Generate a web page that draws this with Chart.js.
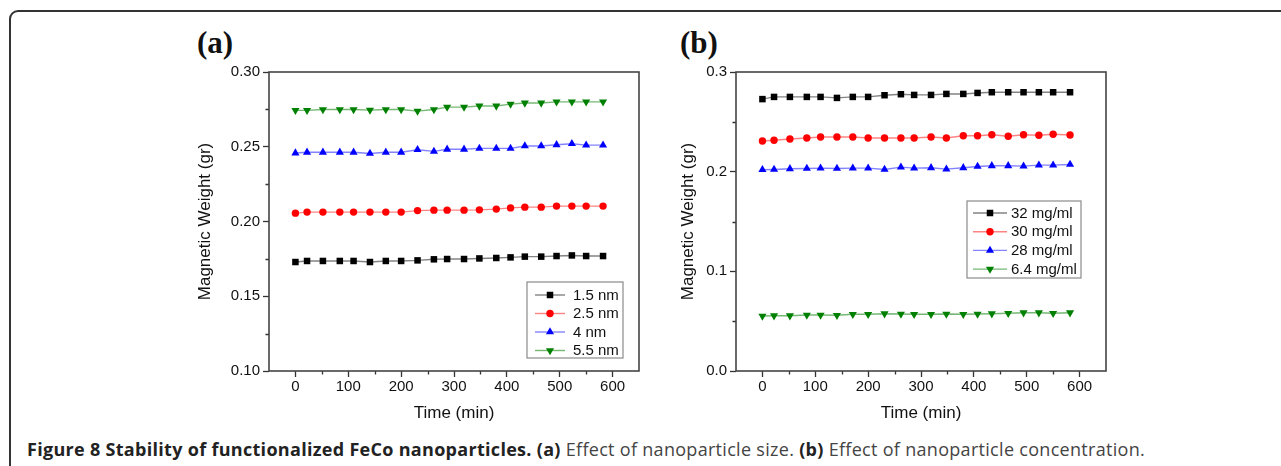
<!DOCTYPE html>
<html><head><meta charset="utf-8">
<script src="https://cdn.jsdelivr.net/npm/chart.js@4.4.1/dist/chart.umd.min.js"></script>
<style>
html,body{margin:0;padding:0;background:#fff;width:1281px;height:466px;overflow:hidden;position:relative;font-family:Arial,"Liberation Sans",sans-serif}
#frame{position:absolute;left:9px;top:10px;width:1300px;height:500px;border:2px solid #333;border-top-left-radius:9px;box-sizing:border-box}
canvas{position:absolute;top:60px}
#ca{left:180px}
#cb{left:660px}
.lbl{position:absolute;font-family:"Liberation Serif","Times New Roman",serif;font-weight:bold;font-size:31px;line-height:32px;color:#111}
#caption{position:absolute;left:27px;top:439px;font-family:"Open Sans",sans-serif;font-size:18px;letter-spacing:0.3px;line-height:20px;color:#444;white-space:nowrap}
#caption b{color:#222;font-weight:700}
</style></head>
<body>
<div id="frame"></div>
<div class="lbl" style="left:197px;top:27px">(a)</div>
<div class="lbl" style="left:680px;top:27px">(b)</div>
<canvas id="ca" width="470" height="370"></canvas>
<canvas id="cb" width="460" height="370"></canvas>
<div id="caption"><b>Figure 8 Stability of functionalized FeCo nanoparticles. (a)</b> Effect of nanoparticle size. <b>(b)</b> Effect of nanoparticle concentration.</div>
<script>
// ---- data ----
const times = [0,22,52,84,110,141,171,200,231,262,287,319,348,380,407,434,465,494,523,550,582];
const xTickValues = [0,100,200,300,400,500,600];
const xMinorTicks = [50,150,250,350,450,550];

// Panel (a): effect of nanoparticle size
const sizeLabels = ['1.5 nm','2.5 nm','4 nm','5.5 nm'];
const size_1_5 = [0.1729,0.1736,0.1736,0.1736,0.1736,0.1729,0.1736,0.1736,0.1740,0.1747,0.1749,0.1749,0.1753,0.1756,0.1760,0.1765,0.1765,0.1769,0.1773,0.1769,0.1769];
const size_2_5 = [0.2056,0.2063,0.2063,0.2063,0.2063,0.2063,0.2063,0.2063,0.2073,0.2076,0.2076,0.2076,0.2078,0.2083,0.2091,0.2096,0.2096,0.2103,0.2103,0.2103,0.2103];
const size_4   = [0.2458,0.2463,0.2463,0.2463,0.2463,0.2455,0.2463,0.2463,0.2480,0.2469,0.2483,0.2483,0.2489,0.2489,0.2489,0.2505,0.2505,0.2513,0.2520,0.2511,0.2511];
const size_5_5 = [0.2743,0.2743,0.2749,0.2749,0.2749,0.2745,0.2749,0.2749,0.2738,0.2749,0.2765,0.2765,0.2773,0.2773,0.2785,0.2793,0.2793,0.2800,0.2800,0.2800,0.2800];
const yTicksA = [0.10,0.15,0.20,0.25,0.30];
const yTickLabelsA = ['0.10','0.15','0.20','0.25','0.30'];
const yMinorA = [0.125,0.175,0.225,0.275];

// Panel (b): effect of nanoparticle concentration
const concLabels = ['32 mg/ml','30 mg/ml','28 mg/ml','6.4 mg/ml'];
const conc_32  = [0.2728,0.2750,0.2750,0.2750,0.2750,0.2740,0.2750,0.2750,0.2767,0.2777,0.2770,0.2770,0.2780,0.2780,0.2790,0.2797,0.2797,0.2797,0.2797,0.2797,0.2797];
const conc_30  = [0.2308,0.2315,0.2328,0.2338,0.2348,0.2348,0.2348,0.2338,0.2338,0.2338,0.2338,0.2348,0.2338,0.2361,0.2361,0.2371,0.2355,0.2371,0.2365,0.2375,0.2368];
const conc_28  = [0.2019,0.2022,0.2029,0.2032,0.2036,0.2032,0.2036,0.2036,0.2022,0.2046,0.2036,0.2039,0.2026,0.2039,0.2052,0.2059,0.2059,0.2056,0.2066,0.2066,0.2072];
const conc_6_4 = [0.0552,0.0555,0.0555,0.0562,0.0562,0.0559,0.0569,0.0569,0.0575,0.0572,0.0569,0.0569,0.0572,0.0569,0.0572,0.0575,0.0579,0.0585,0.0585,0.0579,0.0585];
const yTicksB = [0.0,0.1,0.2,0.3];
const yTickLabelsB = ['0.0','0.1','0.2','0.3'];
const yMinorB = [0.05,0.15,0.25];

// ---- styles ----
const STY = [
  {color:'#000000', line:'rgba(90,90,90,0.75)',  style:'rect',     r:4.6, rot:0},
  {color:'#ff0000', line:'rgba(255,90,90,0.75)', style:'circle',   r:3.7, rot:0},
  {color:'#0000ff', line:'rgba(90,90,255,0.75)', style:'triangle', r:4.7, rot:0},
  {color:'#008000', line:'rgba(70,160,70,0.75)', style:'triangle', r:4.7, rot:180}
];

function buildDatasets(labels, series){
  return series.map((vals,i)=>({
    label: labels[i],
    data: times.map((t,j)=>({x:t, y:vals[j]})),
    borderColor: STY[i].line,
    borderWidth: 1.4,
    backgroundColor: STY[i].color,
    pointBackgroundColor: STY[i].color,
    pointBorderColor: STY[i].color,
    pointBorderWidth: 0,
    pointStyle: STY[i].style,
    pointRadius: STY[i].r,
    pointRotation: STY[i].rot,
    tension: 0
  }));
}

const framePlugin = {
  id:'frameBox',
  afterDraw(chart, args, opts){
    const ctx = chart.ctx, ca = chart.chartArea;
    const xs = chart.scales.x, ys = chart.scales.y;
    ctx.save();
    // minor ticks
    ctx.strokeStyle = '#333'; ctx.lineWidth = 1.3;
    ctx.beginPath();
    opts.xMinor.forEach(v=>{ const px = Math.round(xs.getPixelForValue(v))+0.5; ctx.moveTo(px, ca.bottom); ctx.lineTo(px, ca.bottom+3.5); });
    opts.yMinor.forEach(v=>{ const py = Math.round(ys.getPixelForValue(v))+0.5; ctx.moveTo(ca.left, py); ctx.lineTo(ca.left-3.5, py); });
    ctx.stroke();
    // box
    ctx.strokeStyle = '#444'; ctx.lineWidth = 1.6;
    ctx.strokeRect(ca.left, ca.top, ca.right-ca.left, ca.bottom-ca.top);
    // legend
    const L = opts.legend;
    const bx = ca.left + L.x, by = ca.top + L.y;
    ctx.fillStyle = '#fff';
    ctx.fillRect(bx, by, L.w, L.h);
    ctx.strokeStyle = '#8a8a8a'; ctx.lineWidth = 1.2;
    ctx.strokeRect(bx, by, L.w, L.h);
    ctx.font = '15px Arial, "Liberation Sans", sans-serif';
    ctx.textBaseline = 'middle'; ctx.textAlign = 'left';
    chart.data.datasets.forEach((ds,i)=>{
      const y = by + L.row0 + i*L.rowH;
      ctx.strokeStyle = ds.borderColor; ctx.lineWidth = 1.4;
      ctx.beginPath(); ctx.moveTo(bx+L.lx0, y); ctx.lineTo(bx+L.lx1, y); ctx.stroke();
      ctx.fillStyle = ds.pointBackgroundColor;
      Chart.helpers.drawPoint(ctx, {pointStyle: ds.pointStyle, rotation: ds.pointRotation, radius: ds.pointRadius, borderWidth: 0}, bx+(L.lx0+L.lx1)/2, y);
      ctx.fillStyle = '#111';
      ctx.fillText(ds.label, bx+L.tx, y+0.5);
    });
    ctx.restore();
  }
};

function makeChart(id, cfg){
  return new Chart(document.getElementById(id), {
    type:'line',
    data:{datasets: cfg.datasets},
    options:{
      responsive:false, animation:false,
      layout:{padding:{left:0, right:cfg.padR, top:11, bottom:0}},
      plugins:{
        legend:{display:false}, tooltip:{enabled:false},
        frameBox:{xMinor:xMinorTicks, yMinor:cfg.yMinor, legend:cfg.legend}
      },
      scales:{
        x:{
          type:'linear', min:-50, max:650,
          afterBuildTicks: s=>{ s.ticks = xTickValues.map(v=>({value:v})); },
          afterFit: s=>{ s.height = 59; },
          grid:{drawOnChartArea:false, drawTicks:true, tickLength:6, tickColor:'#333', tickWidth:1.3},
          border:{display:false},
          ticks:{padding:1, color:'#111', autoSkip:false, maxRotation:0, font:{size:15, family:'Arial'},
                 callback:(v)=>String(xTickValues[xTickValues.indexOf(v)])},
          title:{display:true, text:'Time (min)', color:'#111', font:{size:17, family:'Arial'}, padding:{top:0, bottom:6}}
        },
        y:{
          type:'linear', min:cfg.yMin, max:cfg.yMax,
          afterBuildTicks: s=>{ s.ticks = cfg.yTicks.map(v=>({value:v})); },
          afterFit: s=>{ s.width = cfg.yWidth; },
          grid:{drawOnChartArea:false, drawTicks:true, tickLength:6, tickColor:'#333', tickWidth:1.3},
          border:{display:false},
          ticks:{padding:3, color:'#111', autoSkip:false, font:{size:15, family:'Arial'},
                 callback:(v,i)=>cfg.yTickLabels[i]},
          title:{display:true, text:'Magnetic Weight (gr)', color:'#111', font:{size:17, family:'Arial'}, padding:{top:cfg.yTitlePad, bottom:0}}
        }
      }
    },
    plugins:[framePlugin]
  });
}

makeChart('ca', {
  datasets: buildDatasets(sizeLabels, [size_1_5, size_2_5, size_4, size_5_5]),
  padR: 11, yMin:0.10, yMax:0.30, yTicks:yTicksA, yTickLabels:yTickLabelsA, yMinor:yMinorA,
  yWidth: 89, yTitlePad: 15.5,
  legend:{x:258, y:210, w:96, h:76, row0:13, rowH:18.5, lx0:8, lx1:38, tx:46}
});
makeChart('cb', {
  datasets: buildDatasets(concLabels, [conc_32, conc_30, conc_28, conc_6_4]),
  padR: 14, yMin:0.0, yMax:0.3, yTicks:yTicksB, yTickLabels:yTickLabelsB, yMinor:yMinorB,
  yWidth: 76, yTitlePad: 17.8,
  legend:{x:231, y:129, w:114, h:77, row0:12, rowH:18.7, lx0:6, lx1:40, tx:44}
});
</script>
</body></html>
